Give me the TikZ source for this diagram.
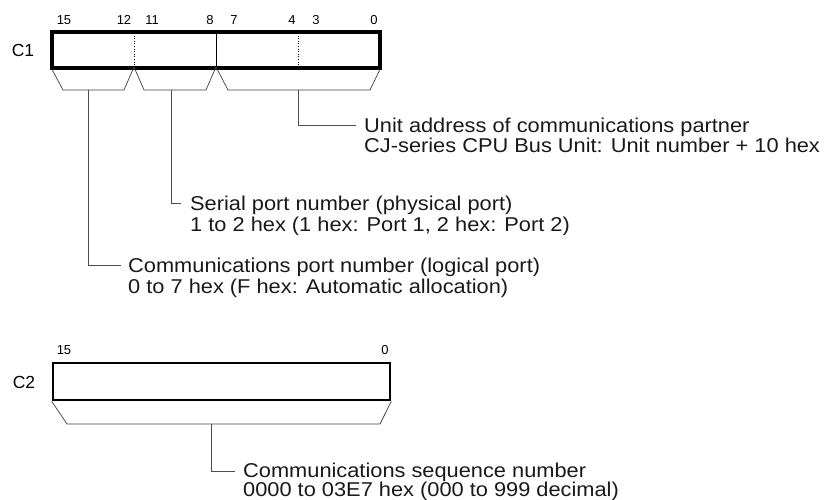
\documentclass[tikz,border=0pt]{standalone}
\usepackage{fontspec}
\setmainfont{Liberation Sans}
\newfontfamily\descfont[FakeStretch=1.09]{Liberation Sans}
\begin{document}
\begin{tikzpicture}[x=1pt,y=-1pt,
  regbox/.style={draw=black,line width=2.6pt,inner sep=0pt},
  divline/.style={line width=0.8pt},
  dotdiv/.style={line width=0.9pt,dash pattern=on 1pt off 1.6pt},
  brace/.style={line width=0.7pt,draw=black!75},
  leader/.style={line width=0.8pt,draw=black!70},
  desc/.style={anchor=base west,inner sep=0pt,font=\descfont\fontsize{20}{21}\selectfont,text=black!90},
  bitnum/.style={inner sep=0pt,font=\fontsize{13}{13}\selectfont},
  regname/.style={inner sep=0pt,font=\fontsize{17.5}{17.5}\selectfont}]
\useasboundingbox (0,0) rectangle (824,500);
% ---- C1 ----
\node[regname] (c1name) at (23,50) {C1};
\node[regbox,minimum width=326pt,minimum height=35pt] (c1) at (216,50) {};
\coordinate (d12) at (134,33);
\coordinate (d12b) at (134,67);
\coordinate (d8) at (216,33);
\coordinate (d8b) at (216,67);
\coordinate (d4) at (298,33);
\coordinate (d4b) at (298,67);
\draw[dotdiv] (d12) -- (d12b);
\draw[divline] (d8) -- (d8b);
\draw[dotdiv] (d4) -- (d4b);
\draw[regbox] (c1.north west) rectangle (c1.south east);
\node[bitnum] (b15) at (64,20) {15};
\node[bitnum] (b12) at (124,20) {12};
\node[bitnum] (b11) at (152,20) {11};
\node[bitnum] (b8) at (210,20) {8};
\node[bitnum] (b7) at (234,20) {7};
\node[bitnum] (b4) at (292,20) {4};
\node[bitnum] (b3) at (316,20) {3};
\node[bitnum] (b0) at (374,20) {0};
% braces
\draw[brace] (c1.south west) -- (63,90) -- (124,90) -- (d12b);
\draw[brace] (d12b) -- (144,90) -- (206,90) -- (d8b);
\draw[brace] (d8b) -- (228,90) -- (370,90) -- (c1.south east);
\coordinate (t1) at (88,90);
\coordinate (t2) at (171,90);
\coordinate (t3) at (298,90);
% labels
\node[desc] (ua) at (364,132) {Unit address of communications partner};
\node[desc] (ua2) at (364,153) {CJ-series CPU Bus Unit: Unit number + 10 hex};
\coordinate (uaend) at (356,125);
\draw[leader] (t3) |- (uaend);
\node[desc] (sp) at (190,210) {Serial port number (physical port)};
\node[desc] (sp2) at (190,231) {1 to 2 hex (1 hex: Port 1, 2 hex: Port 2)};
\coordinate (spend) at (181,203);
\draw[leader] (t2) |- (spend);
\node[desc] (cp) at (128,272) {Communications port number (logical port)};
\node[desc] (cp2) at (128,293) {0 to 7 hex (F hex: Automatic allocation)};
\coordinate (cpend) at (121,265);
\draw[leader] (t1) |- (cpend);
% ---- C2 ----
\node[regname] (c2name) at (24,382) {C2};
\node[regbox,minimum width=337pt,minimum height=37pt] (c2) at (221.5,381.5) {};
\node[bitnum] (c2b15) at (64,350) {15};
\node[bitnum] (c2b0) at (385,350) {0};
\draw[brace] (c2.south west) -- (67,424) -- (380,424) -- (c2.south east);
\coordinate (t4) at (211,424);
\node[desc] (sq) at (243,477) {Communications sequence number};
\node[desc] (sq2) at (243,496) {0000 to 03E7 hex (000 to 999 decimal)};
\coordinate (sqend) at (235,471);
\draw[leader] (t4) |- (sqend);
\end{tikzpicture}
\end{document}
